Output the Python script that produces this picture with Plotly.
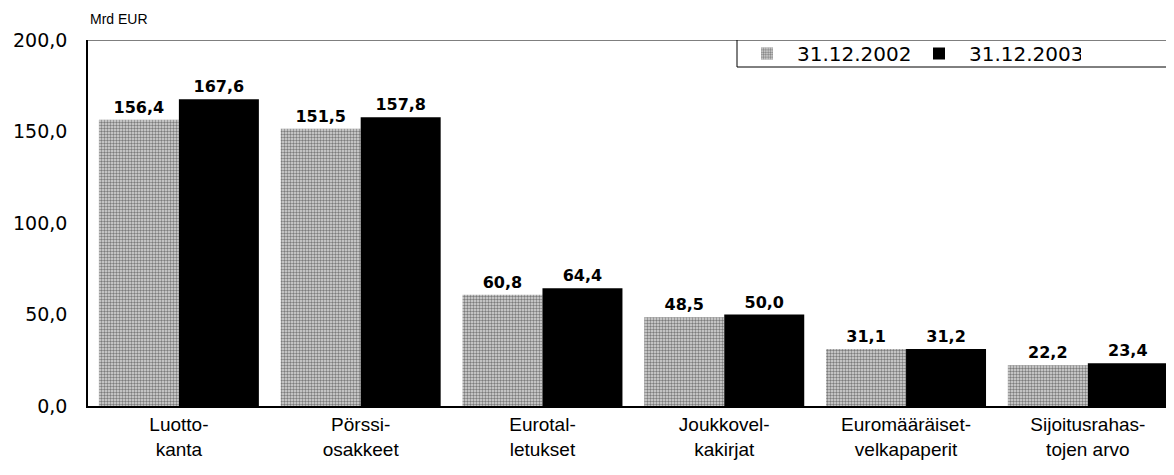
import plotly.graph_objects as go

categories = ["Luotto-<br>kanta", "Pörssi-<br>osakkeet", "Eurotal-<br>letukset",
              "Joukkovel-<br>kakirjat", "Euromääräiset-<br>velkapaperit", "Sijoitusrahas-<br>tojen arvo"]
values_2002 = [156.4, 151.5, 60.8, 48.5, 31.1, 22.2]
values_2003 = [167.6, 157.8, 64.4, 50.0, 31.2, 23.4]
series_names = ["31.12.2002", "31.12.2003"]
y_ticks = [0, 50, 100, 150, 200]


def fmt(v):
    return f"{v:.1f}".replace(".", ",")


fig = go.Figure()
fig.add_trace(go.Bar(
    x=categories, y=values_2002, name=series_names[0],
    marker=dict(color="#d8d8d8", line=dict(width=0),
                pattern=dict(shape=".", fgcolor="#1e1e1e", bgcolor="#dadada",
                             size=3, solidity=0.5)),
    text=[fmt(v) for v in values_2002], textposition="outside",
    textfont=dict(family="DejaVu Sans", size=16, color="black", weight="bold"),
    cliponaxis=False,
))
fig.add_trace(go.Bar(
    x=categories, y=values_2003, name=series_names[1],
    marker=dict(color="black", line=dict(width=0)),
    text=[fmt(v) for v in values_2003], textposition="outside",
    textfont=dict(family="DejaVu Sans", size=16, color="black", weight="bold"),
    cliponaxis=False,
))

W, H = 1166, 467
L, T, B = 80, 32, 69
plot_w = W - L
plot_h = H - T - B
legend_left = (737 - 8 - L) / plot_w
box_h_units = 27 / plot_h * 200

fig.update_layout(
    width=W, height=H,
    margin=dict(l=L, r=0, t=T, b=B, autoexpand=False, pad=0),
    paper_bgcolor="white", plot_bgcolor="white",
    barmode="group", bargap=0.12, bargroupgap=0,
    font=dict(family="Liberation Sans, Arial", size=19, color="black"),
    showlegend=True,
    legend=dict(orientation="h", x=legend_left, xanchor="left",
                y=1 - 13.5 / plot_h, yanchor="middle",
                borderwidth=0, bgcolor="rgba(0,0,0,0)",
                font=dict(family="DejaVu Sans", size=20, color="black"),
                traceorder="normal", itemwidth=50,
                entrywidthmode="pixels", entrywidth=107),
    xaxis=dict(range=[-0.5, 5.474], showline=True, linecolor="black", linewidth=2,
               ticks="", showgrid=False, tickfont=dict(size=19)),
    yaxis=dict(range=[0, 200], tickvals=y_ticks, ticktext=[fmt(v) for v in y_ticks],
               showline=True, linecolor="black", linewidth=1.5, ticks="",
               showgrid=False, zeroline=False, ticklabelstandoff=15,
               tickfont=dict(family="DejaVu Sans", size=19)),
    shapes=[
        dict(type="line", xref="paper", yref="y", x0=0, x1=1.02, y0=200, y1=200,
             line=dict(color="black", width=1.2)),
        dict(type="rect", xref="paper", yref="y", x0=legend_left, x1=1.05,
             y0=200 - box_h_units, y1=200, line=dict(color="black", width=1),
             fillcolor="white", layer="above"),
    ],
    annotations=[dict(text="Mrd EUR", xref="paper", yref="paper", x=0, y=1,
                      xanchor="left", yanchor="top", yshift=T - 1, showarrow=False,
                      font=dict(family="Liberation Sans, Arial", size=14, color="black"))],
)

fig.write_html("out.html")
